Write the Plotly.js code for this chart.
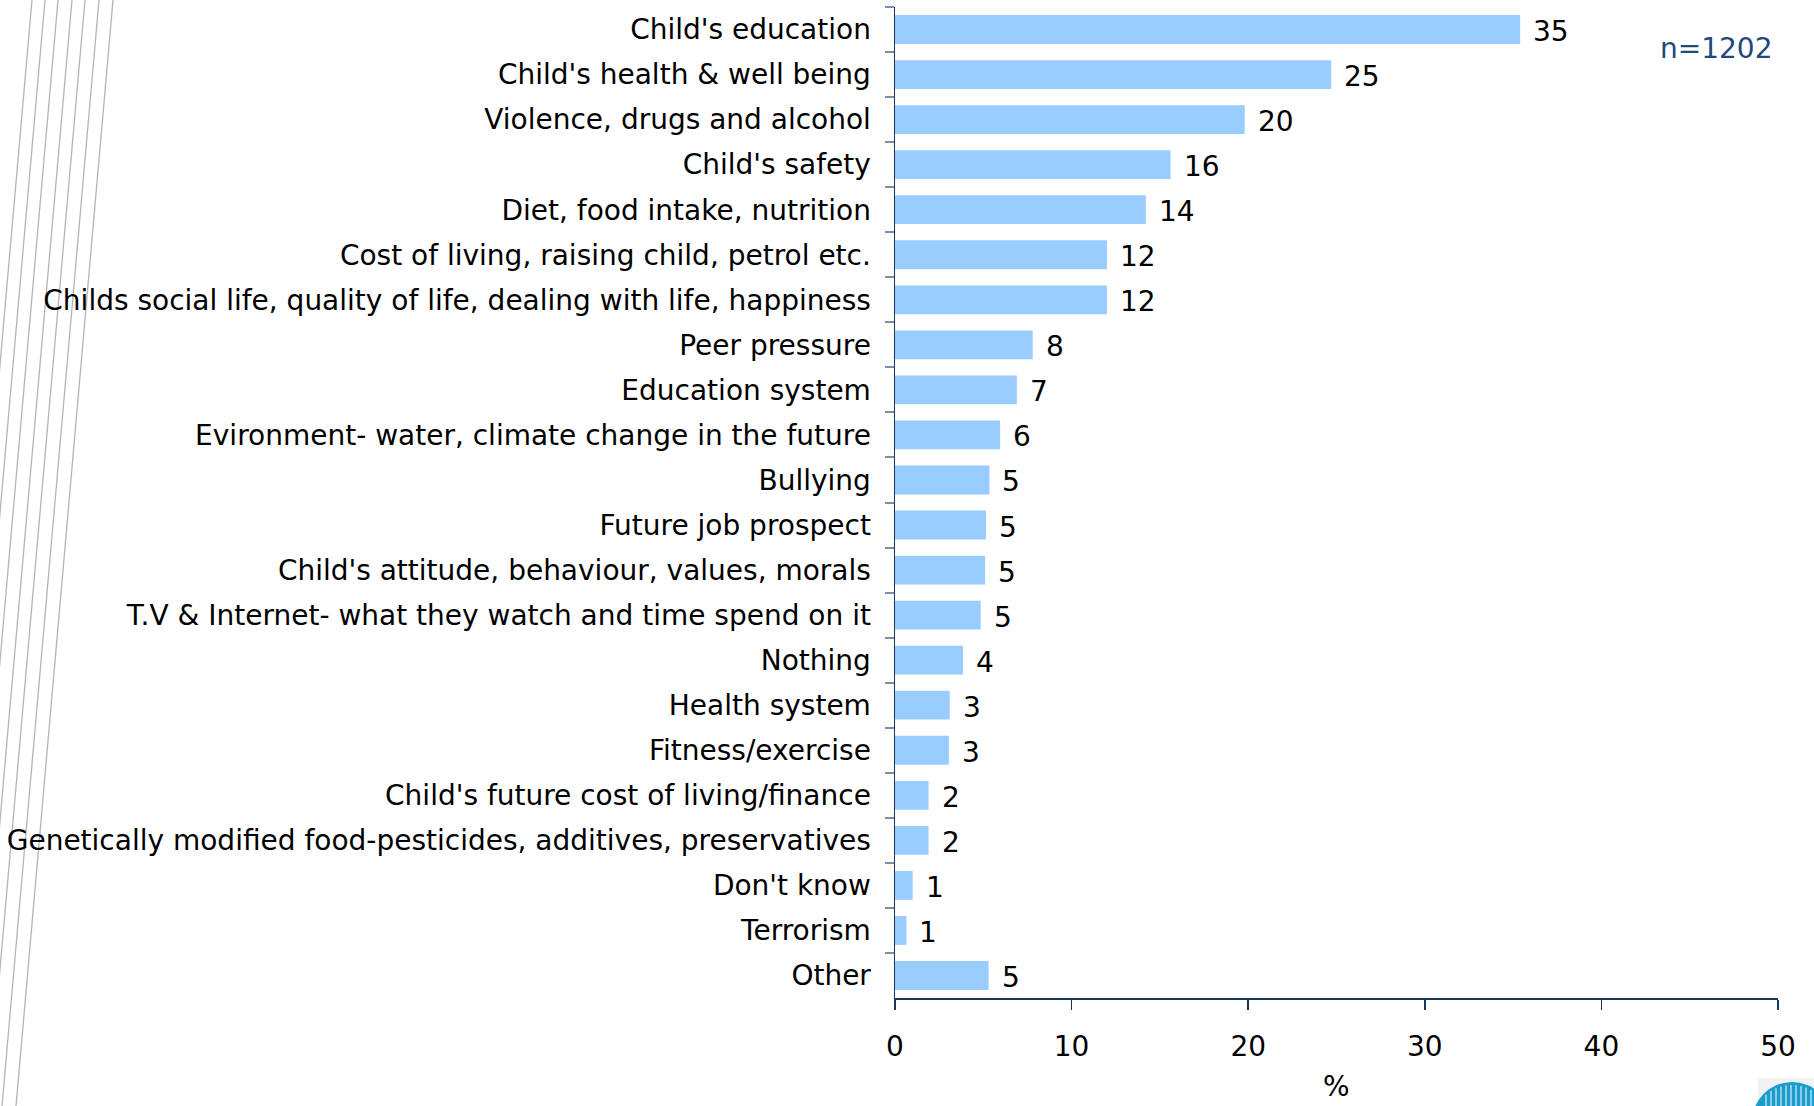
<!DOCTYPE html>
<html>
<head>
<meta charset="utf-8">
<script src="https://cdn.plot.ly/plotly-3.0.1.min.js"></script>
<style>
  html, body { margin: 0; padding: 0; background: #ffffff; }
  #chart { width: 1814px; height: 1106px; }
</style>
</head>
<body>
<div id="chart"></div>
<script>
// ---- Data ----
const categories = [
  "Child's education",
  "Child's health & well being",
  "Violence, drugs and alcohol",
  "Child's safety",
  "Diet, food intake, nutrition",
  "Cost of living, raising child, petrol etc.",
  "Childs social life, quality of life, dealing with life, happiness",
  "Peer pressure",
  "Education system",
  "Evironment- water, climate change in the future",
  "Bullying",
  "Future job prospect",
  "Child's attitude, behaviour, values, morals",
  "T.V & Internet- what they watch and time spend on it",
  "Nothing",
  "Health system",
  "Fitness/exercise",
  "Child's future cost of living/finance",
  "Genetically modified food-pesticides, additives, preservatives",
  "Don't know",
  "Terrorism",
  "Other"
];
const percentValues = [35.4, 24.7, 19.8, 15.6, 14.2, 12.0, 12.0, 7.8, 6.9, 5.95, 5.35, 5.15, 5.1, 4.85, 3.85, 3.1, 3.05, 1.9, 1.9, 1.0, 0.65, 5.3];
const valueLabels = ["35", "25", "20", "16", "14", "12", "12", "8", "7", "6", "5", "5", "5", "5", "4", "3", "3", "2", "2", "1", "1", "5"];
const xTickValues = [0, 10, 20, 30, 40, 50];
const sampleNote = "n=1202";
const xTitle = "%";

// ---- Layout geometry (pixels) ----
const W = 1814, H = 1106;
const M = { l: 895, r: 36, t: 7, b: 108 };
const PW = W - M.l - M.r, PH = H - M.t - M.b;
const px2paperX = px => (px - M.l) / PW;
const py2paperY = py => (H - M.b - py) / PH;

const FONT = "DejaVu Sans, Verdana, sans-serif";

const trace = {
  type: "bar",
  orientation: "h",
  x: percentValues,
  y: categories,
  marker: { color: "#99ccff", line: { width: 0 } },
  hoverinfo: "x+y",
  cliponaxis: false
};

// value labels placed through the axes
const annotations = categories.map((c, i) => ({
  x: percentValues[i], y: c, xref: "x", yref: "y",
  text: valueLabels[i], showarrow: false,
  xanchor: "left", yanchor: "middle", xshift: 11, yshift: -2,
  font: { family: FONT, size: 28, color: "#000000" }
}));
annotations.push({
  x: px2paperX(1716), y: py2paperY(48.5), xref: "paper", yref: "paper",
  text: sampleNote, showarrow: false, xanchor: "center", yanchor: "middle",
  font: { family: FONT, size: 28, color: "#1f497d" }
});
// x-axis title (placed below the tick labels, kept inside the page)
annotations.push({
  x: 0.5, y: py2paperY(1104), xref: "paper", yref: "paper",
  text: xTitle, showarrow: false, xanchor: "center", yanchor: "bottom",
  borderpad: 0,
  font: { family: FONT, size: 28, color: "#000000" }
});

// decorative slanted lines at left + logo fragment
const shapes = [];
const lineTops = [32, 45, 58, 72, 85, 99, 113];
lineTops.forEach(t => {
  shapes.push({
    type: "line", xref: "paper", yref: "paper", layer: "below",
    x0: px2paperX(t), y0: py2paperY(0),
    x1: px2paperX(t - 97), y1: py2paperY(H),
    line: { color: "#b4b4b4", width: 1.3 }
  });
});
shapes.push({
  type: "rect", xref: "paper", yref: "paper", layer: "above",
  x0: px2paperX(1758), x1: px2paperX(W), y0: py2paperY(1078), y1: py2paperY(H),
  fillcolor: "#f2f2f2", line: { width: 0 }
});
const cx = 1792, cy = 1122, rr = 40;
shapes.push({
  type: "circle", xref: "paper", yref: "paper", layer: "above",
  x0: px2paperX(cx - rr), x1: px2paperX(cx + rr), y0: py2paperY(cy - rr), y1: py2paperY(cy + rr),
  fillcolor: "#1a9ccc", line: { width: 0 }
});
for (let sx = cx - 26; sx <= cx + 26; sx += 5) {
  const dy = Math.sqrt(Math.max(rr * rr - (sx - cx) * (sx - cx), 0));
  shapes.push({
    type: "line", xref: "paper", yref: "paper", layer: "above",
    x0: px2paperX(sx), x1: px2paperX(sx), y0: py2paperY(cy - dy + 3), y1: py2paperY(H),
    line: { color: "#ffffff", width: 1 }
  });
}

const layout = {
  width: W, height: H,
  margin: M,
  paper_bgcolor: "#ffffff",
  plot_bgcolor: "#ffffff",
  showlegend: false,
  bargap: 0.36,
  font: { family: FONT, size: 28, color: "#000000" },
  xaxis: {
    range: [0, 50],
    tickmode: "array",
    tickvals: xTickValues,
    ticktext: xTickValues.map(String),
    showgrid: false,
    zeroline: false,
    showline: true,
    linecolor: "#17375e",
    linewidth: 1.5,
    ticks: "outside",
    ticklen: 10,
    tickwidth: 1.5,
    tickcolor: "#17375e",
    tickfont: { family: FONT, size: 28, color: "#000000" },
    ticklabelstandoff: 13,
    fixedrange: true
  },
  yaxis: {
    type: "category",
    autorange: "reversed",
    showgrid: false,
    zeroline: false,
    showline: true,
    linecolor: "#17375e",
    linewidth: 1.5,
    ticks: "outside",
    tickson: "boundaries",
    ticklen: 9,
    tickwidth: 2,
    tickcolor: "#7a90aa",
    tickfont: { family: FONT, size: 28, color: "#000000" },
    ticklabelstandoff: 17,
    fixedrange: true
  },
  annotations: annotations,
  shapes: shapes
};

Plotly.newPlot("chart", [trace], layout, { displayModeBar: false, staticPlot: true });
</script>
</body>
</html>
